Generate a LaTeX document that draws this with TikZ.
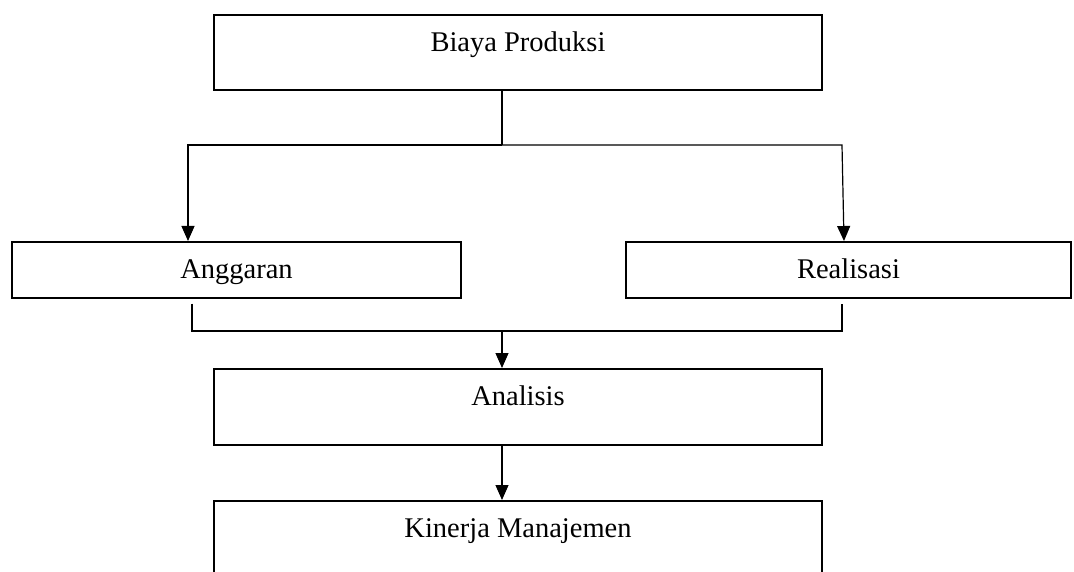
\documentclass[tikz,border=0pt]{standalone}
\usepackage{fontspec}
\setmainfont{Liberation Serif}
\usetikzlibrary{arrows.meta}
\begin{document}
\begin{tikzpicture}
  [x=1pt,y=-1pt,
   box/.style={rectangle,draw,line width=1.6pt,inner sep=0pt,anchor=north,
     text height=37pt,font=\fontsize{28.5}{34}\selectfont},
   arr/.style={line width=1.2pt,-{Triangle[length=15pt,width=13pt]}}]
  \useasboundingbox (0,0) rectangle (1074,572);
  \clip (0,0) rectangle (1074,572);
  \node[box,minimum width=608pt,text depth=38pt] (biaya) at (518,14) {Biaya Produksi};
  \node[box,minimum width=449pt,text depth=19pt] (anggaran) at (236.5,241) {Anggaran};
  \node[box,minimum width=445pt,text depth=19pt] (realisasi) at (848.5,241) {Realisasi};
  \node[box,minimum width=608pt,text depth=39pt] (analisis) at (518,368) {Analisis};
  \node[box,minimum width=608pt,text depth=80pt] (kinerja) at (518,500) {Kinerja Manajemen};
  % Split below the first box
  \coordinate (topm) at (502,145);
  \coordinate (topl) at (188,145);
  \coordinate (topr) at (842,145);
  \draw[line width=1.2pt] (topm |- biaya.south) -- (topm);
  \draw[arr] (topm) -- (topl) -- (topl |- anggaran.north);
  \draw[arr] (topm) -- (topr) -- ([xshift=2pt]topr |- realisasi.north);
  % Join below the two middle boxes
  \coordinate (botm) at (502,331);
  \coordinate (botl) at (192,331);
  \coordinate (botr) at (842,331);
  \draw[line width=1.2pt] ([yshift=-5pt]botl |- anggaran.south) -- (botl) -- (botr)
    -- ([yshift=-5pt]botr |- realisasi.south);
  \foreach \from/\to in {botm/analisis.north,analisis.south/kinerja.north}
    \draw[arr] (\from -| botm) -- (\to -| botm);
\end{tikzpicture}
\end{document}
